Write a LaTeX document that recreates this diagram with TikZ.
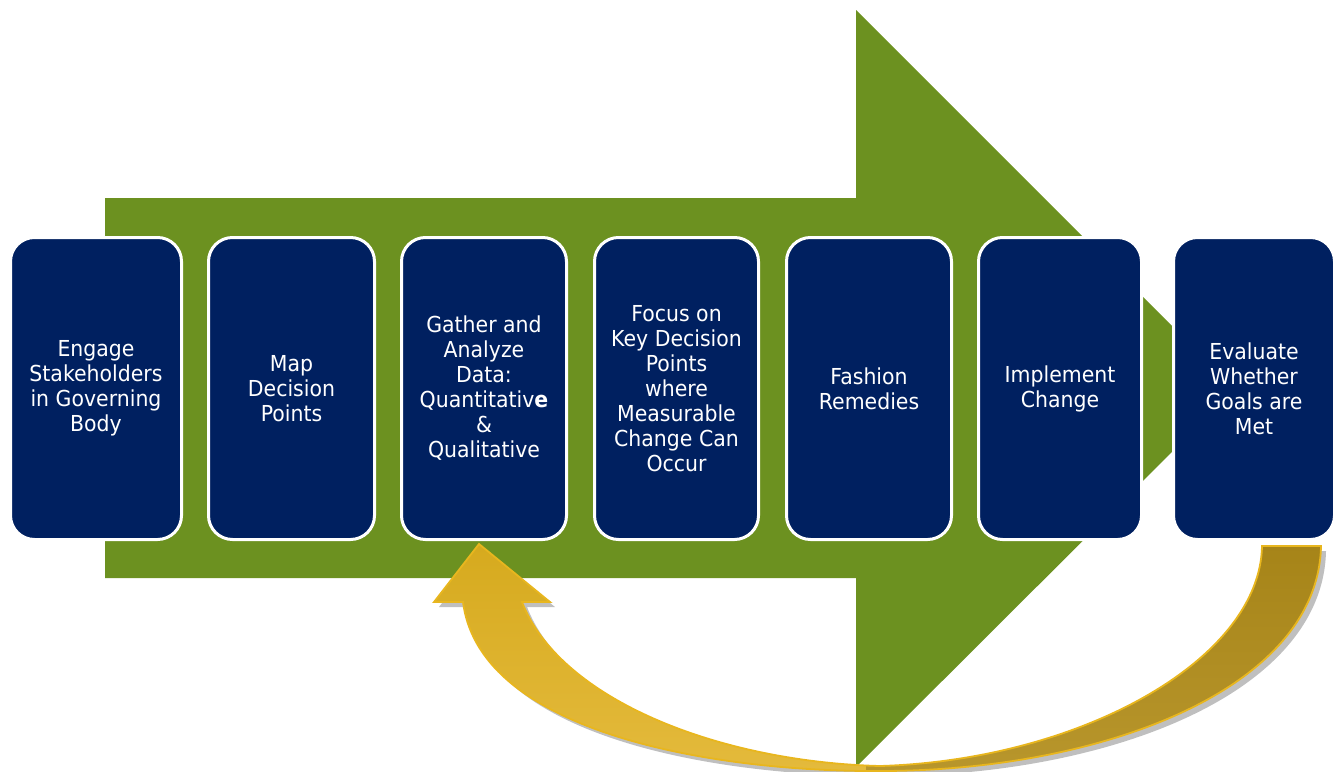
\documentclass[tikz,border=0pt]{standalone}
\usepackage{fontspec}
\setmainfont{DejaVu Sans}[FakeStretch=0.93]
\definecolor{grn}{RGB}{108,145,32}
\definecolor{navy}{RGB}{0,32,96}
\definecolor{goldA}{RGB}{214,170,30}
\definecolor{goldB}{RGB}{228,186,60}
\definecolor{goldC}{RGB}{166,132,24}
\definecolor{goldD}{RGB}{184,150,44}
\definecolor{goldE}{RGB}{232,182,30}
\newcommand\goldshape[1]{\path[#1] (1321,546) .. controls (1318,690) and (1100,771) .. (880,771)
  .. controls (720,772) and (480,735) .. (463,602) -- (434,602) -- (479,544) -- (550,602) -- (522,602)
  .. controls (560,700) and (720,762) .. (880,766)
  .. controls (1080,760) and (1260,660) .. (1262,546) -- cycle;}
\begin{document}
\begin{tikzpicture}[x=1pt,y=-1pt,
  stepbox/.style={draw=white, line width=3pt, fill=navy, rounded corners=24pt,
    minimum height=302pt, text=white, align=center,
    font=\fontsize{22}{25}\selectfont, inner sep=0pt}]
\useasboundingbox (0,0) rectangle (1338,771);
% green process arrow
\fill[grn] (105,198) -- (856,198) -- (856,10) -- (1235,389) -- (856,767) -- (856,578) -- (105,578) -- cycle;
% step boxes
\node[stepbox, minimum width=171pt] (b1) at (96,388.5) {Engage\\Stakeholders\\in Governing\\Body};
\node[stepbox, minimum width=166pt] (b2) at (291.5,388.5) {Map\\Decision\\Points};
\node[stepbox, minimum width=165pt] (b3) at (484,388.5) {Gather and\\Analyze\\Data:\\Quantitativ{\bfseries e}\\\&\\Qualitative};
\node[stepbox, minimum width=164pt] (b4) at (676.5,388.5) {Focus on\\Key Decision\\Points\\where\\Measurable\\Change Can\\Occur};
\node[stepbox, minimum width=165pt] (b5) at (869,388.5) {Fashion\\Remedies};
\node[stepbox, minimum width=163pt] (b6) at (1060,388.5) {Implement\\Change};
\node[stepbox, minimum width=161pt] (b7) at (1254,388.5) {Evaluate\\Whether\\Goals are\\Met};
% gold feedback arrow
\begin{scope}[shift={(5,5)}]
  \goldshape{fill=black,opacity=0.25}
\end{scope}
\goldshape{top color=goldA,bottom color=goldB}
\begin{scope}
  \clip (866,520) rectangle (1338,771);
  \goldshape{top color=goldC,bottom color=goldD}
\end{scope}
\goldshape{draw=goldE,line width=1.8pt}
\end{tikzpicture}
\end{document}
